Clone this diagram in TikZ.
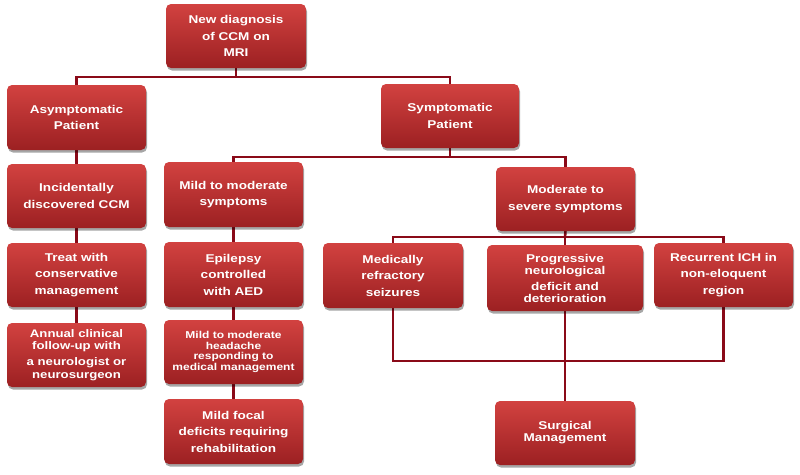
\documentclass[tikz,border=0pt]{standalone}
\usepackage{fontspec}
\setmainfont[FakeStretch=1.2]{Liberation Sans}
\usetikzlibrary{shadows,backgrounds}
\definecolor{boxtop}{RGB}{210,66,64}
\definecolor{boxbot}{RGB}{156,32,34}
\definecolor{linered}{RGB}{138,10,24}
\tikzset{
  box/.style={rounded corners=5pt, top color=boxtop, bottom color=boxbot, draw=none,
    text=white, font=\bfseries\fontsize{11.3}{16.5}\selectfont, align=center, inner sep=0pt,
    drop shadow={shadow xshift=1pt, shadow yshift=-2.5pt, opacity=0.35, fill=black}},
  conn/.style={draw=linered, line width=2.6pt}
}
\begin{document}
\begin{tikzpicture}[x=1pt,y=-1pt]
\useasboundingbox (0,0) rectangle (800,474);
\node[box, minimum width=140pt, minimum height=64pt] (top) at (236,36) {New diagnosis\\of CCM on\\MRI};
\node[box, minimum width=139pt, minimum height=65pt] (asym) at (76.5,117.5) {Asymptomatic\\Patient};
\node[box, minimum width=138pt, minimum height=64pt] (symp) at (450,116) {Symptomatic\\Patient};
\node[box, minimum width=139pt, minimum height=64pt] (inc) at (76.5,196) {Incidentally\\discovered CCM};
\node[box, minimum width=139pt, minimum height=65pt] (mild) at (233.5,194.5) {Mild to moderate\\symptoms};
\node[box, minimum width=139pt, minimum height=64pt] (mod) at (565.5,199) {Moderate to\\severe symptoms};
\node[box, minimum width=139pt, minimum height=64pt] (treat) at (76.5,275) {Treat with\\conservative\\management};
\node[box, minimum width=139pt, minimum height=64pt, font=\bfseries\fontsize{11}{12.2}\selectfont] (annual) at (76.5,355) {Annual clinical\\follow-up with\\[3.8pt]a neurologist or\\neurosurgeon};
\node[box, minimum width=139pt, minimum height=65pt] (epil) at (233.5,274.5) {Epilepsy\\controlled\\with AED};
\node[box, minimum width=139pt, minimum height=64pt, font=\bfseries\fontsize{10}{10.7}\selectfont] (head) at (233.5,352) {Mild to moderate\\headache\\responding to\\medical management};
\node[box, minimum width=139pt, minimum height=65pt] (focal) at (233.5,431.5) {Mild focal\\deficits requiring\\rehabilitation};
\node[box, minimum width=140pt, minimum height=65pt] (medi) at (393,275.5) {Medically\\refractory\\seizures};
\node[box, minimum width=156pt, minimum height=66pt, font=\bfseries\fontsize{11.3}{12}\selectfont] (prog) at (565,278) {Progressive\\neurological\\[4pt]deficit and\\deterioration};
\node[box, minimum width=139pt, minimum height=64pt] (recur) at (723.5,275) {Recurrent ICH in\\non-eloquent\\region};
\node[box, minimum width=140pt, minimum height=64pt, font=\bfseries\fontsize{11.3}{12}\selectfont] (surg) at (565,433) {Surgical\\Management};
\coordinate (j1) at (236,77);
\coordinate (j2) at (450,157);
\coordinate (j3) at (565,237);
\coordinate (j4) at (565,361);
\begin{pgfonlayer}{background}
\fill[white] (0,0) rectangle (800,474);
\draw[conn] (top.south) -- (j1);
\draw[conn] (asym.north) |- (j1) -| (symp.north);
\draw[conn] (symp.south) -- (j2);
\draw[conn] (mild.north) |- (j2) -| (mod.north);
\draw[conn] (mod.south) -- (j3);
\draw[conn] (medi.north) |- (j3) -| (recur.north);
\draw[conn] (j3) -- (prog.north);
\draw[conn] (medi.south) |- (j4) -| (recur.south);
\draw[conn] (prog.south) -- (surg.north);
\draw[conn] (asym.south) -- (inc.north);
\draw[conn] (inc.south) -- (treat.north);
\draw[conn] (treat.south) -- (annual.north);
\draw[conn] (mild.south) -- (epil.north);
\draw[conn] (epil.south) -- (head.north);
\draw[conn] (head.south) -- (focal.north);
\end{pgfonlayer}
\end{tikzpicture}
\end{document}
